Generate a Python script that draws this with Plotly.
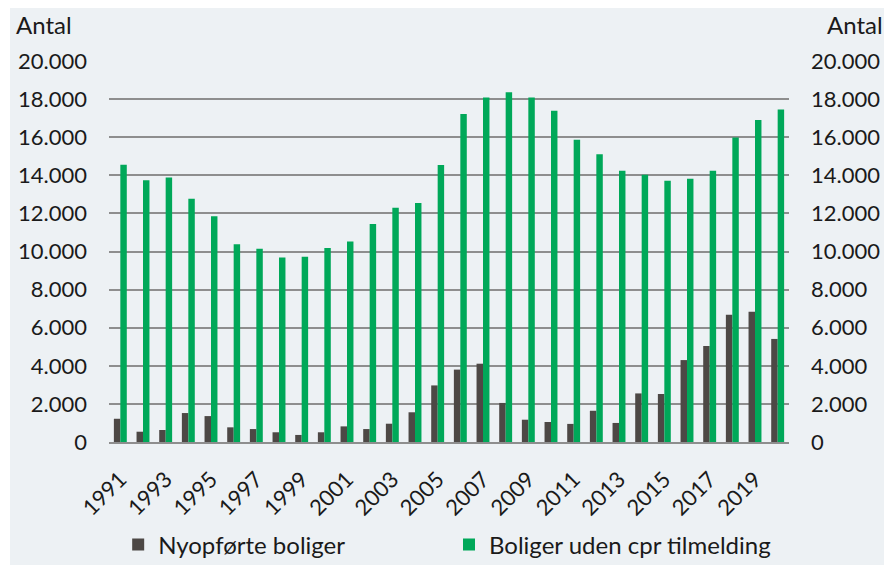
import plotly.graph_objects as go

years = list(range(1991, 2021))
nyopforte = [1220, 540, 630, 1520, 1360, 770, 680, 510, 370, 510,
             820, 680, 960, 1560, 2970, 3800, 4110, 2050, 1170, 1050,
             950, 1640, 1000, 2550, 2520, 4300, 5040, 6680, 6840, 5410]
uden_cpr = [14560, 13740, 13880, 12770, 11850, 10380, 10150, 9680, 9730, 10180,
            10520, 11440, 12300, 12550, 14540, 17220, 18090, 18360, 18090, 17390,
            15870, 15100, 14240, 14030, 13720, 13820, 14240, 15990, 16900, 17450]
tick_years = list(range(1991, 2021, 2))
y_ticks = list(range(0, 20001, 2000))

font = "Lato, Inter, sans-serif"
bg = "#EDF1F4"
grid = "#8E8E8E"

fig = go.Figure()
fig.add_trace(go.Bar(x=years, y=nyopforte, name="Nyopførte boliger",
                     marker=dict(color="#4D4845", line=dict(width=0)), legend="legend"))
fig.add_trace(go.Bar(x=years, y=uden_cpr, name="Boliger uden cpr tilmelding",
                     marker=dict(color="#00A859", line=dict(width=0)), legend="legend2"))
# dummy trace so the right axis is drawn
fig.add_trace(go.Scatter(x=[years[0]], y=[0], yaxis="y2", mode="markers",
                         marker=dict(opacity=0), showlegend=False, hoverinfo="skip"))

# the page has an 8px body margin, so the figure is drawn 8px smaller
legend_style = dict(orientation="h", yanchor="middle", xanchor="left", y=-0.27,
                    font=dict(size=24, family=font, color="#1a1a1a"),
                    bgcolor="rgba(0,0,0,0)")
fig.update_layout(
    width=884, height=557,
    margin=dict(l=101, r=103, t=53, b=123, autoexpand=False),
    paper_bgcolor=bg, plot_bgcolor=bg,
    separators=",.",
    barmode="group", bargap=0.43, bargroupgap=0,
    font=dict(family=font, size=22, color="#1a1a1a"),
    xaxis=dict(range=[1990.5, 2020.5], tickmode="array", tickvals=tick_years,
               ticktext=[str(t) for t in tick_years], tickangle=-45,
               showgrid=False, showline=True, linecolor=grid, linewidth=1.5,
               ticks="", zeroline=False, ticklabelstandoff=14, tickfont=dict(size=22)),
    yaxis=dict(range=[0, 20000], tickvals=y_ticks, tickformat=",d",
               showgrid=True, gridcolor=grid, gridwidth=1.5, zeroline=False,
               ticks="", ticklabelstandoff=21, tickfont=dict(size=22)),
    yaxis2=dict(range=[0, 20000], tickvals=y_ticks, tickformat=",d",
                overlaying="y", side="right", showgrid=False, zeroline=False,
                ticks="", ticklabelstandoff=21, tickfont=dict(size=22)),
    legend=dict(x=0.0135, **legend_style),
    legend2=dict(x=0.5, **legend_style),
    showlegend=True,
)

fig.add_annotation(text="Antal", xref="paper", yref="paper", x=-0.1397, y=1.0945,
                   xanchor="left", yanchor="middle", showarrow=False,
                   font=dict(size=24, family=font))
fig.add_annotation(text="Antal", xref="paper", yref="paper", x=1.141, y=1.0945,
                   xanchor="right", yanchor="middle", showarrow=False,
                   font=dict(size=24, family=font))

# thin white page edge on the left of the grey panel
fig.add_shape(type="rect", xref="paper", yref="paper", x0=-0.2, x1=-99 / 680,
              y0=-0.4, y1=1.2, fillcolor="white", line=dict(width=0), layer="below")

fig.write_html("out.html")
